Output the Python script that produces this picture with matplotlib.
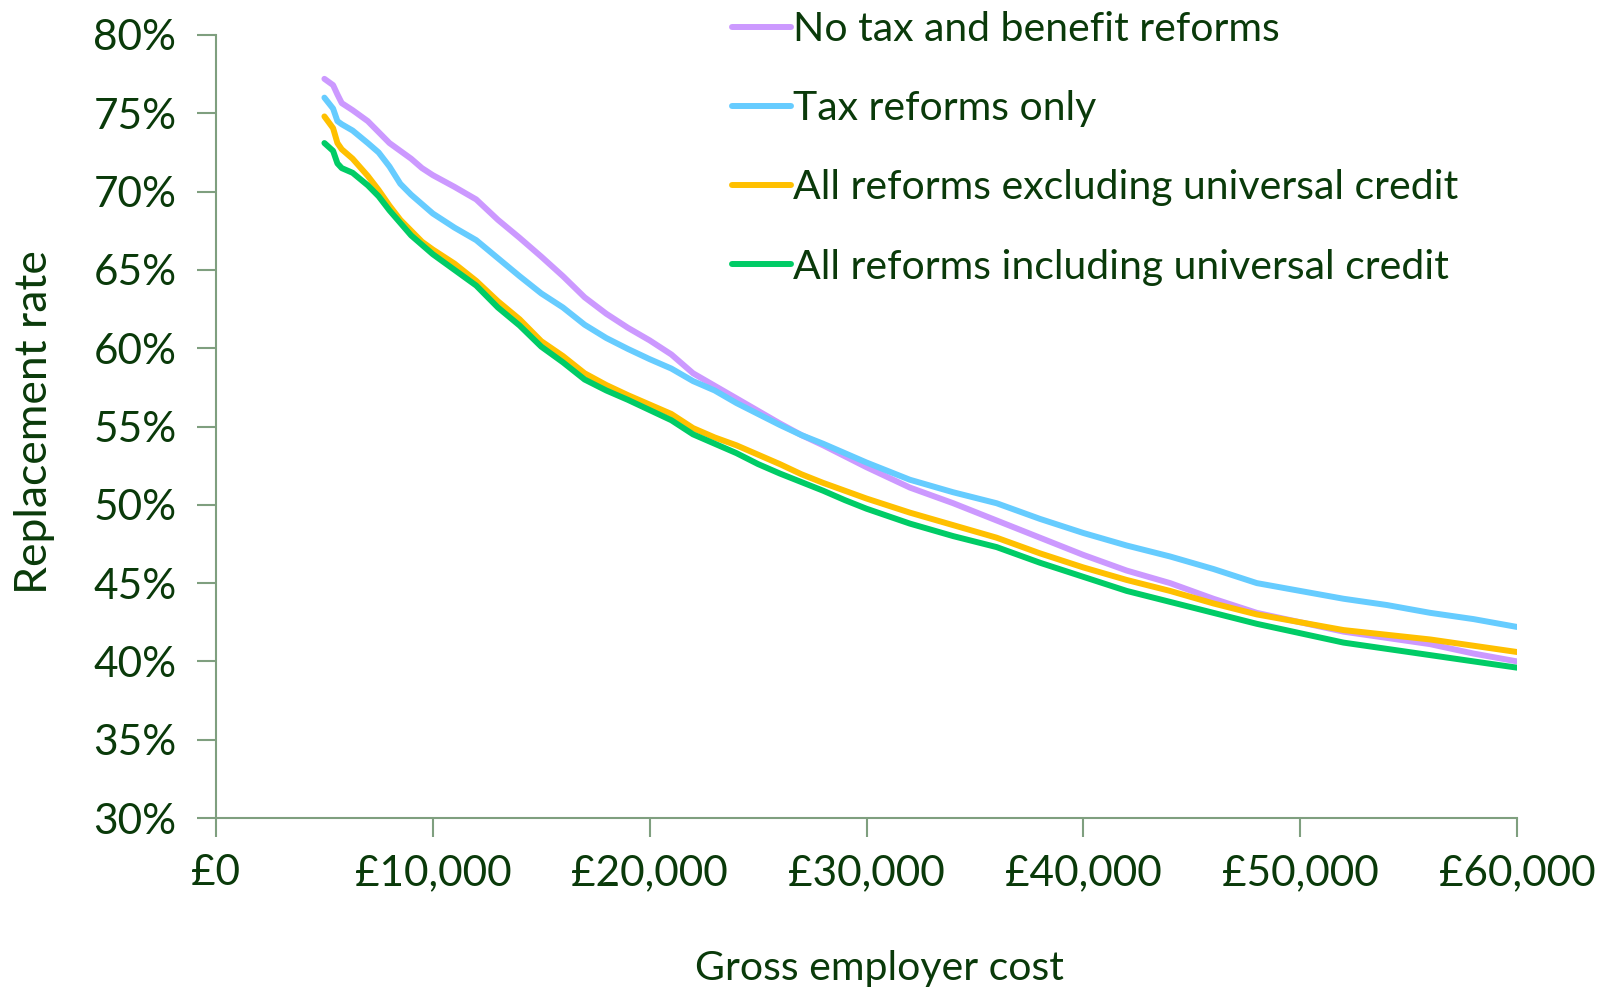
import matplotlib
matplotlib.use("Agg")
import matplotlib.pyplot as plt
from matplotlib.ticker import FuncFormatter, MultipleLocator
from matplotlib import font_manager

# Gross employer cost (£) at which replacement rates are plotted
employer_cost = ([5000, 5400, 5600, 5800, 6300, 7000, 7500, 8000, 8500, 9000,
                  9500, 10000, 11000]
                 + list(range(12000, 30001, 1000))
                 + list(range(32000, 60001, 2000)))

# Replacement rates (%) under each policy scenario
no_reforms = [77.2, 76.8, 76.2, 75.65, 75.2, 74.5, 73.8, 73.1, 72.6, 72.1,
              71.5, 71.05, 70.3,
              69.5, 68.2, 67.05, 65.85, 64.6, 63.25, 62.2, 61.3, 60.5, 59.6,
              58.4, 57.6, 56.8, 56.0, 55.2, 54.45, 53.8, 53.1, 52.4,
              51.1, 50.1, 49.0, 47.9, 46.8, 45.8, 45.0, 44.0, 43.1, 42.5,
              41.9, 41.5, 41.1, 40.5, 40.0]
tax_only = [76.0, 75.3, 74.5, 74.3, 73.9, 73.1, 72.5, 71.6, 70.5, 69.8,
            69.2, 68.6, 67.7,
            66.9, 65.75, 64.6, 63.5, 62.6, 61.5, 60.65, 59.95, 59.3, 58.7,
            57.9, 57.3, 56.5, 55.8, 55.1, 54.45, 53.9, 53.3, 52.7,
            51.6, 50.8, 50.1, 49.1, 48.2, 47.4, 46.7, 45.9, 45.0, 44.5,
            44.0, 43.6, 43.1, 42.7, 42.2]
excl_uc = [74.8, 74.05, 73.1, 72.7, 72.1, 71.0, 70.1, 69.1, 68.2, 67.5,
           66.8, 66.3, 65.4,
           64.3, 63.0, 61.85, 60.45, 59.5, 58.4, 57.65, 57.0, 56.4, 55.8,
           54.9, 54.3, 53.8, 53.2, 52.6, 51.95, 51.4, 50.9, 50.4,
           49.5, 48.7, 47.9, 46.9, 46.0, 45.2, 44.5, 43.7, 43.0, 42.5,
           42.0, 41.7, 41.4, 41.0, 40.6]
incl_uc = [73.1, 72.6, 71.8, 71.5, 71.2, 70.4, 69.7, 68.8, 68.0, 67.2,
           66.6, 66.0, 65.0,
           64.0, 62.6, 61.45, 60.1, 59.1, 58.0, 57.3, 56.7, 56.05, 55.4,
           54.5, 53.9, 53.3, 52.6, 52.0, 51.45, 50.9, 50.3, 49.75,
           48.8, 48.0, 47.3, 46.3, 45.4, 44.5, 43.8, 43.1, 42.4, 41.8,
           41.2, 40.8, 40.4, 40.0, 39.6]

series_labels = ["No tax and benefit reforms", "Tax reforms only",
                 "All reforms excluding universal credit",
                 "All reforms including universal credit"]
series_colors = ["#cc99ff", "#66ccff", "#ffc000", "#00cc66"]

x_label = "Gross employer cost"
y_label = "Replacement rate"

installed = {f.name for f in font_manager.fontManager.ttflist}
family = [f for f in ["Lato", "DejaVu Sans"] if f in installed]
plt.rcParams["font.family"] = family

text_color = "#0a3a0a"
spine_color = "#7f9f7f"

fig = plt.figure(figsize=(16.10, 9.91), dpi=100)
ax = fig.add_axes([216 / 1610, 1 - 818 / 991, (1517 - 216) / 1610, (818 - 35) / 991])

for values, label, color in zip([no_reforms, tax_only, excl_uc, incl_uc],
                                series_labels, series_colors):
    ax.plot(employer_cost, values, color=color, lw=4.3, label=label,
            solid_capstyle="round", solid_joinstyle="round")

ax.set_xlim(0, 60000)
ax.set_ylim(30, 80)
ax.xaxis.set_major_locator(MultipleLocator(10000))
ax.yaxis.set_major_locator(MultipleLocator(5))
ax.xaxis.set_major_formatter(FuncFormatter(lambda v, p: f"£{int(v):,}"))
ax.yaxis.set_major_formatter(FuncFormatter(lambda v, p: f"{int(v)}%"))

for side in ["top", "right"]:
    ax.spines[side].set_visible(False)
for side in ["left", "bottom"]:
    ax.spines[side].set_color(spine_color)
    ax.spines[side].set_linewidth(1.5)

ax.tick_params(axis="both", direction="out", length=14, width=1.5,
               color=spine_color, labelcolor=text_color, labelsize=30.5)
ax.tick_params(axis="y", pad=14.5)
ax.tick_params(axis="x", pad=12)

ax.set_xlabel(x_label, fontsize=29.5, color=text_color)
ax.set_ylabel(y_label, fontsize=32, color=text_color)
ax.xaxis.set_label_coords(0.510, -0.1686)
ax.yaxis.set_label_coords(-0.1237, 0.506)

leg = ax.legend(loc="upper left", bbox_to_anchor=(732 / 1610, 1 - 11 / 991),
                bbox_transform=fig.transFigure, frameon=False, fontsize=29.5,
                labelspacing=1.03, handlelength=1.45, handletextpad=0.05,
                borderpad=0, borderaxespad=0)
for t in leg.get_texts():
    t.set_color(text_color)
for h in leg.get_lines():
    h.set_linewidth(4.3)

fig.savefig("out.png", dpi=100)
